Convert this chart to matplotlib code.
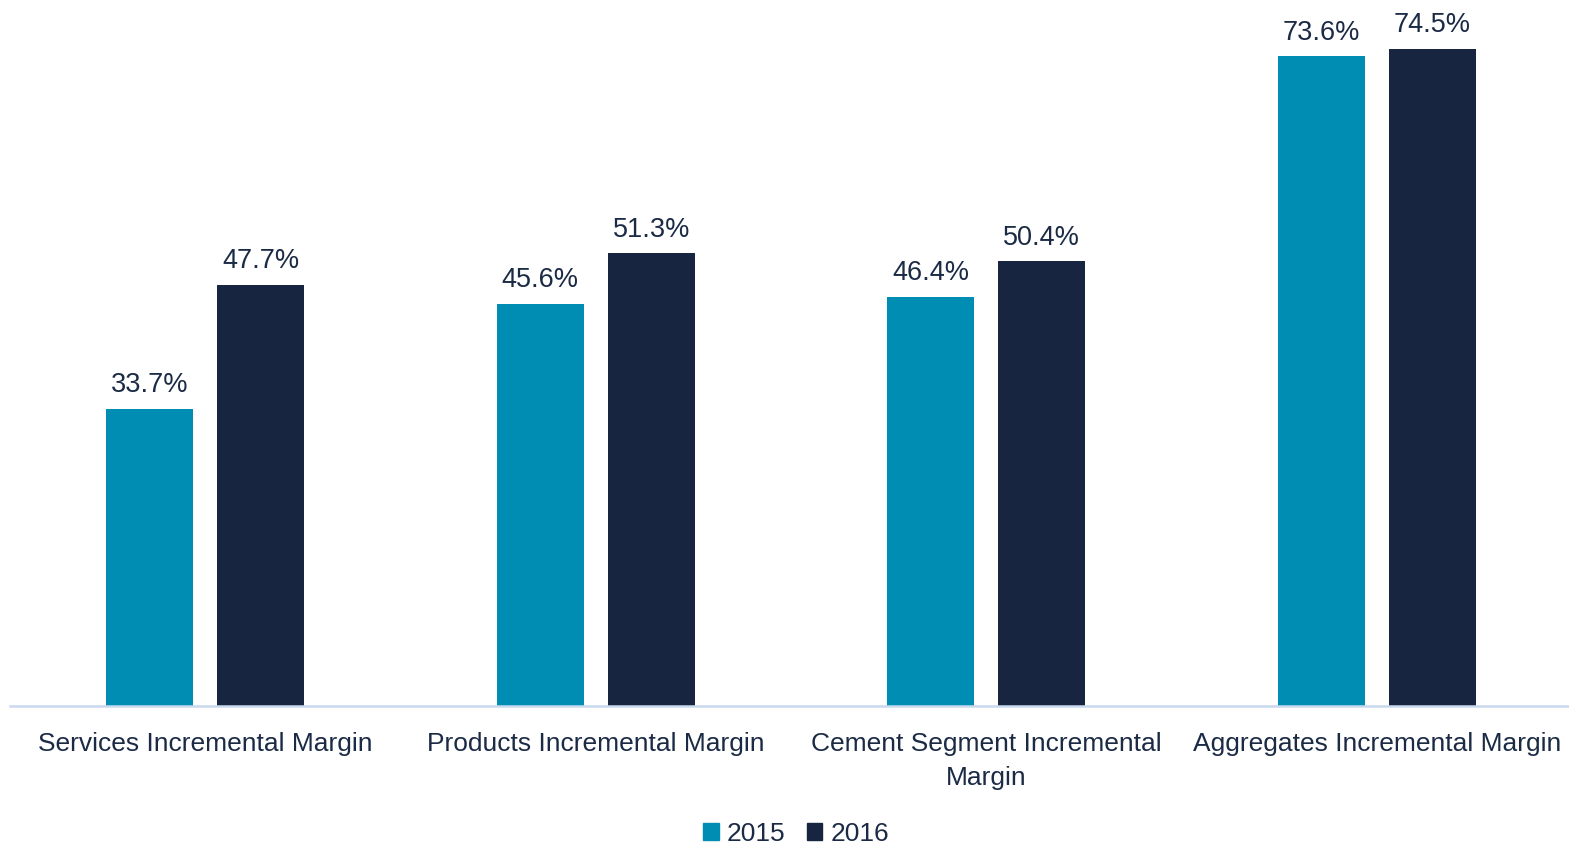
import numpy as np
import matplotlib.pyplot as plt
from matplotlib.patches import Patch

plt.rcParams['font.family'] = ['Liberation Sans Narrow', 'Liberation Sans', 'DejaVu Sans']

categories = ['Services Incremental Margin', 'Products Incremental Margin',
              'Cement Segment Incremental\nMargin', 'Aggregates Incremental Margin']
years = ['2015', '2016']
margin_2015 = [33.7, 45.6, 46.4, 73.6]
margin_2016 = [47.7, 51.3, 50.4, 74.5]

teal = '#008DB3'
navy = '#172541'
text_color = '#1B2A45'

fig = plt.figure(figsize=(15.69, 8.47), dpi=100)
ax = fig.add_axes([10 / 1569, 1 - 706 / 847, 1562 / 1569, 706 / 847])

x = np.arange(len(categories))
w = 0.223
off = 0.142
b1 = ax.bar(x - off, margin_2015, w, color=teal, label=years[0])
b2 = ax.bar(x + off, margin_2016, w, color=navy, label=years[1])

for bars, vals in [(b1, margin_2015), (b2, margin_2016)]:
    for bar, v in zip(bars, vals):
        ax.annotate(f'{v:.1f}%', (bar.get_x() + bar.get_width() / 2, v),
                    xytext=(0, 12), textcoords='offset points',
                    ha='center', va='baseline', fontsize=19.5, color=text_color)

ax.set_xlim(-0.5, 3.5)
ax.set_ylim(0, 80)
ax.set_yticks([])
ax.set_xticks(x)
ax.set_xticklabels(categories, fontsize=19, color=text_color, linespacing=1.5)
ax.tick_params(axis='x', length=0, pad=19)
for s in ['top', 'right', 'left']:
    ax.spines[s].set_visible(False)
ax.spines['bottom'].set_color('#C9D9EE')
ax.spines['bottom'].set_linewidth(1.8)

handles = [Patch(color=teal), Patch(color=navy)]
fig.legend(handles, years, loc='center', bbox_to_anchor=(796 / 1569, 1 - 834 / 847),
           ncol=2, frameon=False, fontsize=19, handlelength=0.6, handleheight=0.6,
           handletextpad=0.3, columnspacing=0.8, labelcolor=text_color)

fig.savefig('out.png', dpi=100)
